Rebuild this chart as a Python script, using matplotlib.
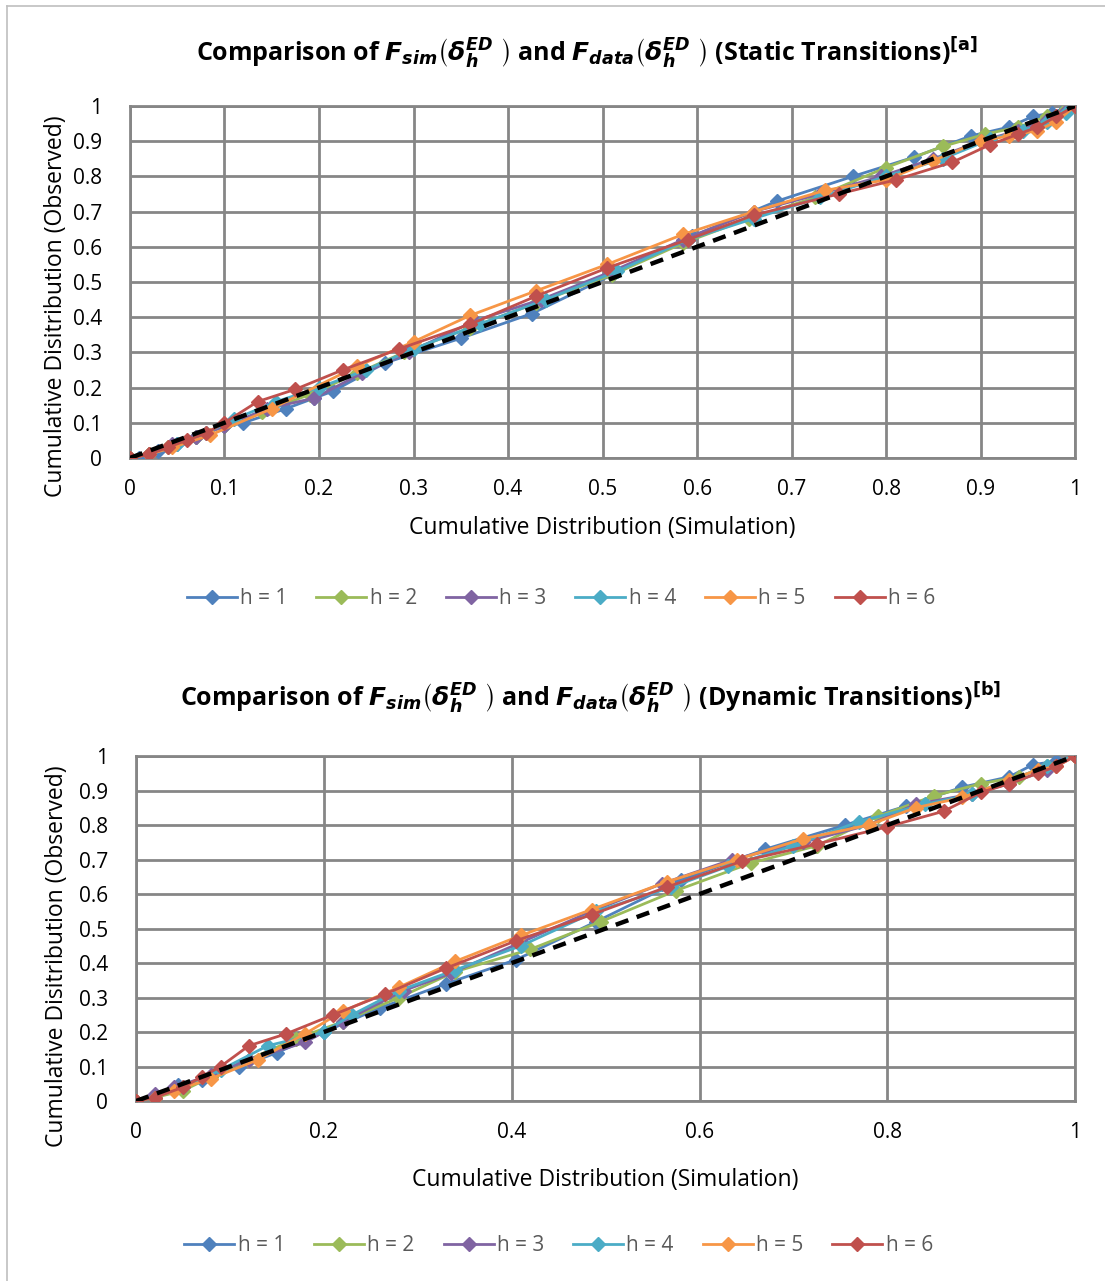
import matplotlib
matplotlib.use("Agg")
import matplotlib.pyplot as plt
from matplotlib.lines import Line2D

plt.rcParams['font.family'] = ['Open Sans', 'DejaVu Sans']
plt.rcParams['mathtext.fontset'] = 'dejavusans'

# series colours (Excel 2010 palette)
colors = ['#4F81BD', '#9BBB59', '#8064A2', '#4BACC6', '#F79646', '#C0504D']
labels = ['h = 1', 'h = 2', 'h = 3', 'h = 4', 'h = 5', 'h = 6']

# static transitions (top)
s1_x = [0, 0.01, 0.03, 0.05, 0.07, 0.1, 0.12, 0.165, 0.195, 0.215, 0.27, 0.35, 0.425, 0.51, 0.595, 0.685, 0.765, 0.83, 0.89, 0.93, 0.955, 0.975, 0.99, 1]
s1_y = [0, 0.0, 0.02, 0.04, 0.06, 0.09, 0.10, 0.14, 0.17, 0.19, 0.27, 0.34, 0.41, 0.52, 0.63, 0.73, 0.80, 0.855, 0.915, 0.94, 0.97, 0.98, 0.995, 1]
s2_x = [0, 0.02, 0.04, 0.07, 0.1, 0.14, 0.19, 0.24, 0.29, 0.36, 0.43, 0.51, 0.585, 0.655, 0.725, 0.8, 0.86, 0.905, 0.94, 0.97, 0.99, 1]
s2_y = [0, 0.01, 0.03, 0.06, 0.09, 0.13, 0.18, 0.24, 0.30, 0.37, 0.44, 0.52, 0.61, 0.68, 0.74, 0.825, 0.885, 0.92, 0.94, 0.97, 0.99, 1]
s3_x = [0, 0.02, 0.045, 0.07, 0.1, 0.145, 0.195, 0.245, 0.295, 0.365, 0.435, 0.51, 0.585, 0.66, 0.73, 0.795, 0.85, 0.9, 0.94, 0.97, 0.99, 1]
s3_y = [0, 0.01, 0.04, 0.06, 0.09, 0.14, 0.17, 0.24, 0.30, 0.39, 0.45, 0.53, 0.62, 0.70, 0.75, 0.80, 0.85, 0.9, 0.93, 0.96, 0.985, 1]
s4_x = [0, 0.02, 0.05, 0.08, 0.11, 0.155, 0.2, 0.25, 0.3, 0.37, 0.44, 0.515, 0.59, 0.66, 0.73, 0.8, 0.86, 0.91, 0.945, 0.97, 0.99, 1]
s4_y = [0, 0.01, 0.04, 0.07, 0.11, 0.16, 0.20, 0.25, 0.31, 0.38, 0.45, 0.53, 0.62, 0.68, 0.74, 0.8, 0.85, 0.905, 0.93, 0.955, 0.98, 1]
s5_x = [0, 0.02, 0.045, 0.085, 0.15, 0.24, 0.3, 0.36, 0.43, 0.505, 0.585, 0.66, 0.735, 0.8, 0.85, 0.9, 0.93, 0.96, 0.98, 1]
s5_y = [0, 0.01, 0.03, 0.065, 0.14, 0.26, 0.33, 0.405, 0.475, 0.55, 0.635, 0.70, 0.76, 0.79, 0.845, 0.9, 0.915, 0.93, 0.955, 1]
s6_x = [0, 0.02, 0.04, 0.06, 0.08, 0.1, 0.135, 0.175, 0.225, 0.285, 0.36, 0.43, 0.505, 0.59, 0.66, 0.75, 0.81, 0.87, 0.91, 0.94, 0.96, 0.98, 1]
s6_y = [0, 0.01, 0.03, 0.05, 0.07, 0.1, 0.16, 0.195, 0.25, 0.31, 0.38, 0.46, 0.54, 0.62, 0.69, 0.75, 0.79, 0.84, 0.89, 0.92, 0.94, 0.97, 1]

# dynamic transitions (bottom)
d1_x = [0, 0.02, 0.045, 0.07, 0.11, 0.15, 0.2, 0.26, 0.33, 0.405, 0.49, 0.58, 0.67, 0.755, 0.82, 0.88, 0.93, 0.955, 0.98, 1]
d1_y = [0, 0.01, 0.045, 0.06, 0.10, 0.14, 0.2, 0.27, 0.34, 0.41, 0.52, 0.64, 0.73, 0.80, 0.855, 0.91, 0.94, 0.975, 0.985, 1]
d2_x = [0, 0.02, 0.05, 0.08, 0.12, 0.17, 0.22, 0.28, 0.34, 0.42, 0.495, 0.575, 0.655, 0.725, 0.79, 0.85, 0.9, 0.94, 0.97, 1]
d2_y = [0, 0.01, 0.03, 0.07, 0.12, 0.18, 0.23, 0.30, 0.375, 0.44, 0.52, 0.61, 0.69, 0.74, 0.825, 0.885, 0.92, 0.94, 0.97, 1]
d3_x = [0, 0.02, 0.04, 0.08, 0.12, 0.18, 0.22, 0.285, 0.335, 0.41, 0.485, 0.56, 0.635, 0.71, 0.78, 0.83, 0.89, 0.93, 0.97, 1]
d3_y = [0, 0.02, 0.04, 0.075, 0.12, 0.17, 0.23, 0.32, 0.37, 0.46, 0.55, 0.63, 0.70, 0.75, 0.80, 0.86, 0.89, 0.92, 0.96, 1]
d4_x = [0, 0.02, 0.05, 0.09, 0.14, 0.2, 0.23, 0.28, 0.34, 0.41, 0.49, 0.57, 0.63, 0.7, 0.77, 0.84, 0.89, 0.93, 0.97, 1]
d4_y = [0, 0.01, 0.04, 0.09, 0.16, 0.2, 0.25, 0.32, 0.38, 0.45, 0.55, 0.62, 0.68, 0.74, 0.81, 0.86, 0.89, 0.93, 0.97, 1]
d5_x = [0, 0.02, 0.04, 0.08, 0.13, 0.18, 0.22, 0.28, 0.34, 0.41, 0.485, 0.565, 0.64, 0.71, 0.78, 0.83, 0.88, 0.93, 0.96, 0.98, 1]
d5_y = [0, 0.01, 0.03, 0.065, 0.12, 0.195, 0.26, 0.33, 0.405, 0.48, 0.555, 0.635, 0.70, 0.76, 0.80, 0.85, 0.88, 0.93, 0.96, 0.97, 1]
d6_x = [0, 0.02, 0.05, 0.07, 0.09, 0.12, 0.16, 0.21, 0.265, 0.33, 0.405, 0.485, 0.565, 0.645, 0.725, 0.8, 0.86, 0.9, 0.93, 0.96, 0.98, 1]
d6_y = [0, 0.01, 0.04, 0.07, 0.1, 0.16, 0.195, 0.25, 0.31, 0.385, 0.465, 0.54, 0.62, 0.695, 0.745, 0.795, 0.84, 0.895, 0.92, 0.95, 0.97, 1]

static_series = [(s1_x, s1_y), (s2_x, s2_y), (s3_x, s3_y), (s4_x, s4_y), (s5_x, s5_y), (s6_x, s6_y)]
dynamic_series = [(d1_x, d1_y), (d2_x, d2_y), (d3_x, d3_y), (d4_x, d4_y), (d5_x, d5_y), (d6_x, d6_y)]

y_ticks = [0, 0.1, 0.2, 0.3, 0.4, 0.5, 0.6, 0.7, 0.8, 0.9, 1]
x_ticks_top = [0, 0.1, 0.2, 0.3, 0.4, 0.5, 0.6, 0.7, 0.8, 0.9, 1]
x_ticks_bottom = [0, 0.2, 0.4, 0.6, 0.8, 1]

title_top = (r"Comparison of $\mathbfit{F}_{\mathbfit{sim}}\left(\mathbfit{\delta}_{\mathbfit{h}}^{\mathbfit{ED}}\ \right)$"
             r" and $\mathbfit{F}_{\mathbfit{data}}\left(\mathbfit{\delta}_{\mathbfit{h}}^{\mathbfit{ED}}\ \right)$"
             r" (Static Transitions)$^{\mathbf{[a]}}$")
title_bottom = (r"Comparison of $\mathbfit{F}_{\mathbfit{sim}}\left(\mathbfit{\delta}_{\mathbfit{h}}^{\mathbfit{ED}}\ \right)$"
                r" and $\mathbfit{F}_{\mathbfit{data}}\left(\mathbfit{\delta}_{\mathbfit{h}}^{\mathbfit{ED}}\ \right)$"
                r" (Dynamic Transitions)$^{\mathbf{[b]}}$")

fig = plt.figure(figsize=(11.05, 12.81), dpi=100)

# thin frame on left and top like the original
fig.add_artist(Line2D([7 / 1105, 7 / 1105], [0, 1 - 6 / 1281], color='#bfbfbf', lw=1.2))
fig.add_artist(Line2D([7 / 1105, 1], [1 - 6 / 1281, 1 - 6 / 1281], color='#bfbfbf', lw=1.2))


def draw_panel(ax, series, xticks, title, title_x, title_y, legend_x, legend_y, ylab_xy, xpad):
    for (xs, ys), c, lab in zip(series, colors, labels):
        ax.plot(xs, ys, color=c, lw=2, marker='D', ms=7.5, label=lab, zorder=3)
    ax.plot([0, 1], [0, 1], color='black', lw=3.2, ls=(0, (3, 2)), zorder=4)
    ax.set_xlim(0, 1)
    ax.set_ylim(0, 1)
    ax.set_xticks(xticks)
    ax.set_xticklabels([f"{t:g}" for t in xticks])
    ax.set_yticks(y_ticks)
    ax.set_yticklabels([f"{t:g}" for t in y_ticks])
    ax.grid(True, color='#868686', lw=2)
    ax.set_axisbelow(True)
    for s in ax.spines.values():
        s.set_color('#868686')
        s.set_linewidth(2)
    ax.tick_params(axis='x', length=0, labelsize=15, pad=15)
    ax.tick_params(axis='y', length=0, labelsize=15, pad=20)
    ax.set_xlabel('Cumulative Distribution (Simulation)', fontsize=16.5, labelpad=xpad)
    ax.set_ylabel('Cumulative Disitribution (Observed)', fontsize=16.5, va='center')
    ax.yaxis.set_label_coords(*ylab_xy)
    fig.text(title_x, title_y, title, ha='center', va='center', fontsize=18, fontweight='bold')
    leg = ax.legend(loc='center', bbox_to_anchor=(legend_x, legend_y), ncol=6, frameon=False,
                    fontsize=15, handlelength=2.4, columnspacing=1.4, handletextpad=0.15)
    for t in leg.get_texts():
        t.set_color('#595959')


ax1 = fig.add_axes([0.1176, 0.6425, 0.8554, 0.2748])
draw_panel(ax1, static_series, x_ticks_top, title_top, 587 / 1105, 1 - 53 / 1281, 0.456, -0.4,
           (-0.078, 0.43), 12)

ax2 = fig.add_axes([0.1231, 0.1405, 0.8499, 0.2693])
draw_panel(ax2, dynamic_series, x_ticks_bottom, title_bottom, 590 / 1105, 1 - 698 / 1281, 0.45, -0.42,
           (-0.084, 0.42), 18)

fig.savefig('out.png', dpi=100)
